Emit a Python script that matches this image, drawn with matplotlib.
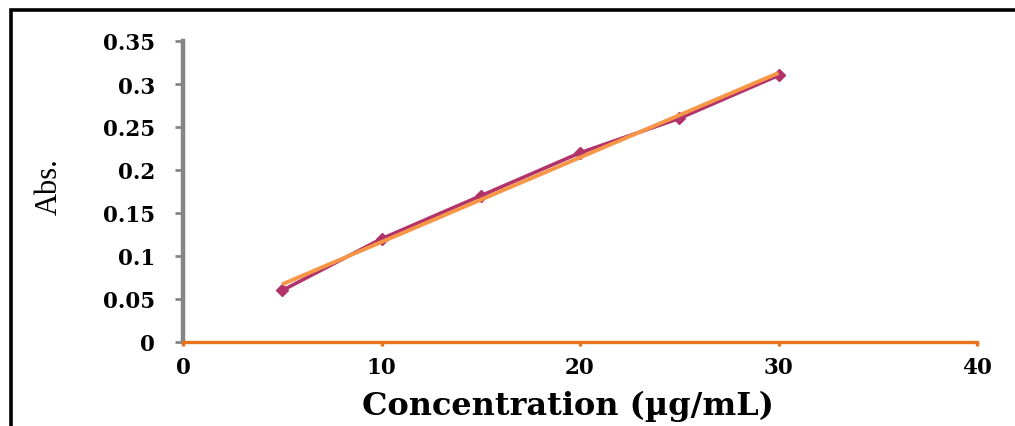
import numpy as np
import matplotlib
matplotlib.use("Agg")
import matplotlib.pyplot as plt
from matplotlib.patches import Rectangle

# Data
concentration = [5, 10, 15, 20, 25, 30]
absorbance = [0.06, 0.12, 0.17, 0.22, 0.26, 0.31]
x_ticks = [0, 10, 20, 30, 40]
y_ticks = [0, 0.05, 0.1, 0.15, 0.2, 0.25, 0.3, 0.35]
y_tick_labels = ["0", "0.05", "0.1", "0.15", "0.2", "0.25", "0.3", "0.35"]

W, H = 1015, 427
fig = plt.figure(figsize=(W / 100, H / 100), dpi=100)

# outer chart frame (clipped on right and bottom)
fig.patches.append(Rectangle((10.5 / W, -0.2), 1.5, 1 - 11 / H + 0.2,
                             transform=fig.transFigure, fill=False,
                             edgecolor="black", linewidth=2.6))

ax = fig.add_axes([183 / W, 1 - 343 / H, (977 - 183) / W, (343 - 42) / H])

line_col = "#B2336A"
trend_col = "#F79646"

ax.plot(concentration, absorbance, color=line_col, linewidth=2.6,
        marker="D", markersize=6, markerfacecolor=line_col,
        markeredgecolor=line_col, zorder=3)

# linear trendline (least squares fit of the data)
slope, intercept = np.polyfit(concentration, absorbance, 1)
xs = np.array([min(concentration), max(concentration)])
ax.plot(xs, slope * xs + intercept, color=trend_col, linewidth=2.8,
        zorder=4, solid_capstyle="butt")

ax.set_xlim(0, 40)
ax.set_ylim(0, 0.35)
ax.set_xticks(x_ticks)
ax.set_xticklabels([str(t) for t in x_ticks])
ax.set_yticks(y_ticks)
ax.set_yticklabels(y_tick_labels)

for s in ["top", "right"]:
    ax.spines[s].set_visible(False)
ax.spines["left"].set_color("#858585")
ax.spines["left"].set_linewidth(3.2)
ax.spines["bottom"].set_color("#E8731A")
ax.spines["bottom"].set_linewidth(2.4)
ax.spines["bottom"].set_zorder(5)

ax.tick_params(axis="y", direction="out", length=6, width=2.0,
               color="#858585", pad=14)
ax.tick_params(axis="x", direction="out", length=3, width=2.4,
               color="#E8731A", pad=7)
for lbl in ax.get_xticklabels() + ax.get_yticklabels():
    lbl.set_fontfamily("DejaVu Serif")
    lbl.set_fontweight("bold")
    lbl.set_fontsize(15.5)
    lbl.set_color("black")

ax.set_xlabel("Concentration (\u00b5g/mL)", fontfamily="DejaVu Serif",
              fontweight="bold", fontsize=23)
ax.xaxis.set_label_coords(0.485, -0.158)
ax.set_ylabel("Abs.", fontfamily="Liberation Serif", fontsize=22)
ax.yaxis.set_label_coords(-0.15, 0.52)

fig.savefig("out.png", dpi=100)
